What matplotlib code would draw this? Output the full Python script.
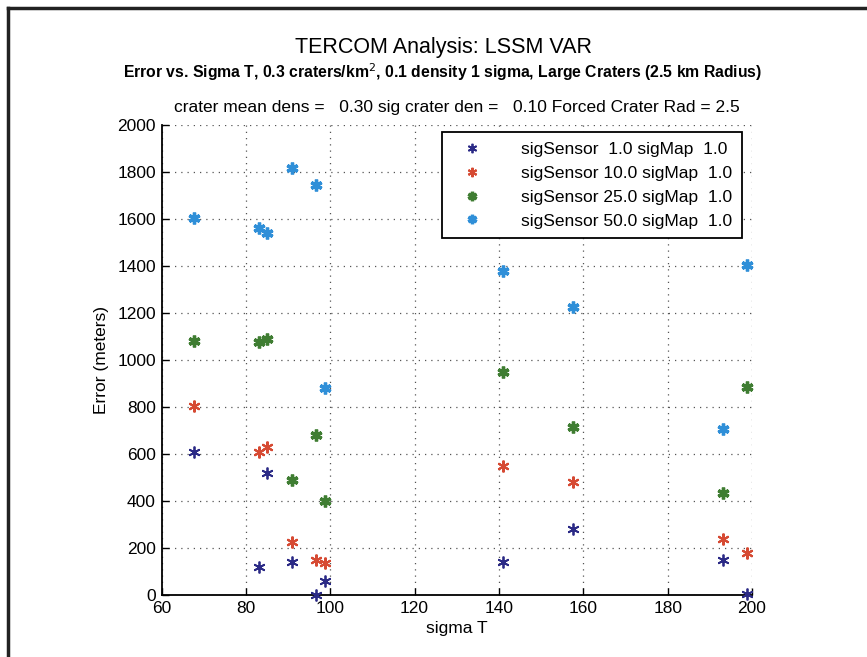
import matplotlib
matplotlib.use("Agg")
import matplotlib.pyplot as plt
from matplotlib.lines import Line2D

plt.rcParams['font.family'] = ['Liberation Sans', 'DejaVu Sans']

sigma_t = [67.6, 83.0, 85.0, 91.0, 96.6, 98.8, 141.0, 157.5, 193.0, 198.7]
err_s1 = [610, 118, 520, 140, 0, 60, 140, 280, 150, 5]
err_s10 = [805, 610, 630, 225, 150, 135, 550, 480, 240, 180]
err_s25 = [1080, 1075, 1090, 490, 680, 400, 950, 715, 435, 885]
err_s50 = [1605, 1560, 1540, 1815, 1745, 880, 1380, 1225, 705, 1405]
labels = ["sigSensor  1.0 sigMap  1.0", "sigSensor 10.0 sigMap  1.0",
          "sigSensor 25.0 sigMap  1.0", "sigSensor 50.0 sigMap  1.0"]
colors = ["#2b2a86", "#d64a33", "#3f7d32", "#2f8fd8"]
xticks = [60, 80, 100, 120, 140, 160, 180, 200]
yticks = [0, 200, 400, 600, 800, 1000, 1200, 1400, 1600, 1800, 2000]

fig = plt.figure(figsize=(8.67, 6.57), dpi=100)
ax = fig.add_axes([0.1863, 0.0944, 0.6811, 0.7156])

asterisk = (6, 2, 0)
series = [err_s1, err_s10, err_s25, err_s50]
mews = [1.3, 1.5, 2.4, 2.4]
for ys, c, lab, mw in zip(series, colors, labels, mews):
    ax.plot(sigma_t, ys, linestyle='none', marker=asterisk, markersize=8.5,
            markeredgewidth=mw, color=c, label=lab, clip_on=False, zorder=3)

ax.set_xlim(60, 200)
ax.set_ylim(0, 2000)
ax.set_xticks(xticks)
ax.set_yticks(yticks)
ax.tick_params(direction='in', length=5, width=1, labelsize=12.5, pad=4)
for s in ['top', 'right']:
    ax.spines[s].set_visible(False)
for s in ['left', 'bottom']:
    ax.spines[s].set_linewidth(1.3)
ax.grid(True, linestyle=(0, (1, 4)), color='#555555', linewidth=0.9)
ax.set_axisbelow(True)

ax.set_xlabel("sigma T", fontsize=12.5, labelpad=4)
ax.set_ylabel("Error (meters)", fontsize=12.5, labelpad=6)
ax.set_title("crater mean dens =   0.30 sig crater den =   0.10 Forced Crater Rad = 2.5",
             fontsize=12.5, pad=9)

fig.text(0.511, 0.928, "TERCOM Analysis: LSSM VAR", ha='center', va='center', fontsize=15.5)
fig.text(0.511, 0.890,
         "Error vs. Sigma T, 0.3 craters/km$^2$, 0.1 density 1 sigma, Large Craters (2.5 km Radius)",
         ha='center', va='center', fontsize=11.3, fontweight='bold')

leg = ax.legend(loc='upper right', bbox_to_anchor=(0.9825, 0.984), fontsize=12.5,
                frameon=True, fancybox=False, edgecolor='black', framealpha=1,
                handletextpad=1.6, borderpad=0.55, labelspacing=0.5, handlelength=2.4,
                borderaxespad=0.0, markerscale=0.8)
leg.get_frame().set_linewidth(1.3)

# outer frame (top and left edges)
fig.add_artist(Line2D([0.0095, 1.0], [0.9875, 0.9875], color='#222222', linewidth=2.5,
                      transform=fig.transFigure))
fig.add_artist(Line2D([0.0095, 0.0095], [0.0, 0.9875], color='#222222', linewidth=2.5,
                      transform=fig.transFigure))

fig.savefig("out.png", dpi=100)
